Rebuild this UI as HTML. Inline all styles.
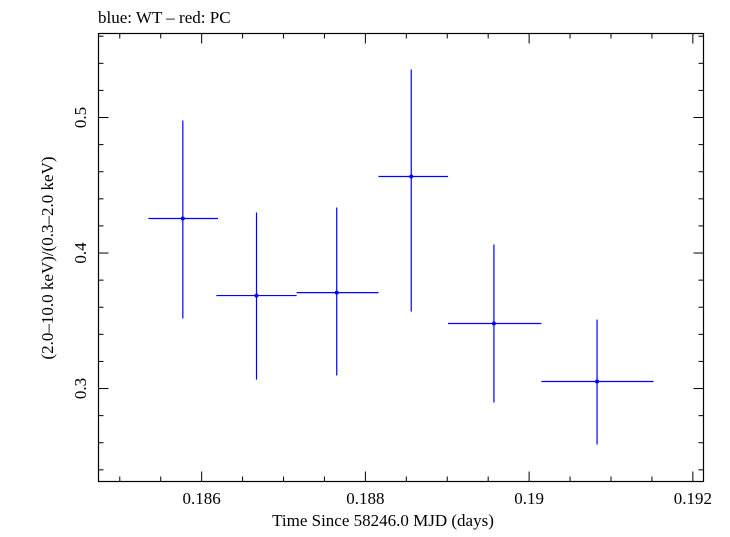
<!DOCTYPE html>
<html><head><meta charset="utf-8"><style>
body{margin:0;background:#fff;}
svg text{font-family:"Liberation Serif",serif;fill:#000;}
</style></head><body>
<svg id="chart" width="730" height="532" xmlns="http://www.w3.org/2000/svg">
<text x="98" y="23" font-size="17">blue: WT – red: PC</text>
<rect x="98.5" y="33.5" width="605" height="448" fill="none" stroke="#000" stroke-width="1.2"/>
<g id="ticks"></g>
<g id="marks"></g>
<text x="383" y="526" font-size="17" text-anchor="middle">Time Since 58246.0 MJD (days)</text>
<text transform="translate(53,258) rotate(-90)" font-size="17" text-anchor="middle">(2.0–10.0 keV)/(0.3–2.0 keV)</text>
</svg>
<script>
const xVals=[0.18577,0.18667,0.18765,0.18856,0.18957,0.19083];
const xLo=[0.18535,0.18618,0.18716,0.18816,0.18901,0.19015];
const xHi=[0.18620,0.18716,0.18816,0.18901,0.19015,0.19152];
const yVals=[0.4255,0.3686,0.3708,0.4565,0.3480,0.3052];
const yLo=[0.3517,0.3066,0.3096,0.3568,0.2897,0.2587];
const yHi=[0.4978,0.4299,0.4336,0.5354,0.4063,0.3509];
const xTickLabels=["0.186","0.188","0.19","0.192"];
const xTickVals=[0.186,0.188,0.190,0.192];
const yTickLabels=["0.3","0.4","0.5"];
const yTickVals=[0.3,0.4,0.5];
const L=98.5,R=703.5,T=33.5,B=481.5;
const x0=0.18474,x1=0.19213,y0=0.2314,y1=0.562;
function sx(v){return L+(v-x0)/(x1-x0)*(R-L);}
function sy(v){return B-(v-y0)/(y1-y0)*(B-T);}
const NS="http://www.w3.org/2000/svg";
function line(p,a,b,c,d,col,w){const e=document.createElementNS(NS,"line");e.setAttribute("x1",a);e.setAttribute("y1",b);e.setAttribute("x2",c);e.setAttribute("y2",d);e.setAttribute("stroke",col);e.setAttribute("stroke-width",w);p.appendChild(e);return e;}
const tg=document.getElementById("ticks");
for(let i=0;i<=30;i++){const v=0.1845+i*0.0005;if(v<x0||v>x1)continue;const maj=Math.abs(Math.round(v/0.002)*0.002-v)<1e-7;const len=maj?10:5;const x=sx(v);
let t=line(tg,x,B,x,B-len,"#000",1);


t=line(tg,x,T,x,T+len,"#000",1);

}
for(let i=0;i<=20;i++){const v=0.22+i*0.02;if(v<y0||v>y1)continue;const maj=Math.abs(Math.round(v*10)/10-v)<1e-7;const len=maj?10:5;const y=sy(v);
let t=line(tg,L,y,L+len,y,"#000",1);


t=line(tg,R,y,R-len,y,"#000",1);

}
xTickVals.forEach((v,i)=>{const t=document.createElementNS(NS,"text");t.setAttribute("x",sx(v));t.setAttribute("y",504);t.setAttribute("font-size","17");t.setAttribute("text-anchor","middle");t.textContent=xTickLabels[i];


tg.appendChild(t);});
yTickVals.forEach((v,i)=>{const t=document.createElementNS(NS,"text");t.setAttribute("transform","translate(86,"+sy(v)+") rotate(-90)");t.setAttribute("font-size","17");t.setAttribute("text-anchor","middle");t.textContent=yTickLabels[i];


tg.appendChild(t);});
const mg=document.getElementById("marks");
xVals.forEach((v,i)=>{const g=document.createElementNS(NS,"g");


line(g,sx(xLo[i]),sy(yVals[i]),sx(xHi[i]),sy(yVals[i]),"#0000ff",1.2);
line(g,sx(v),sy(yLo[i]),sx(v),sy(yHi[i]),"#0000ff",1.2);
const c=document.createElementNS(NS,"circle");c.setAttribute("cx",sx(v));c.setAttribute("cy",sy(yVals[i]));c.setAttribute("r",2);c.setAttribute("fill","#0000ff");g.appendChild(c);
mg.appendChild(g);});
</script>
</body></html>
